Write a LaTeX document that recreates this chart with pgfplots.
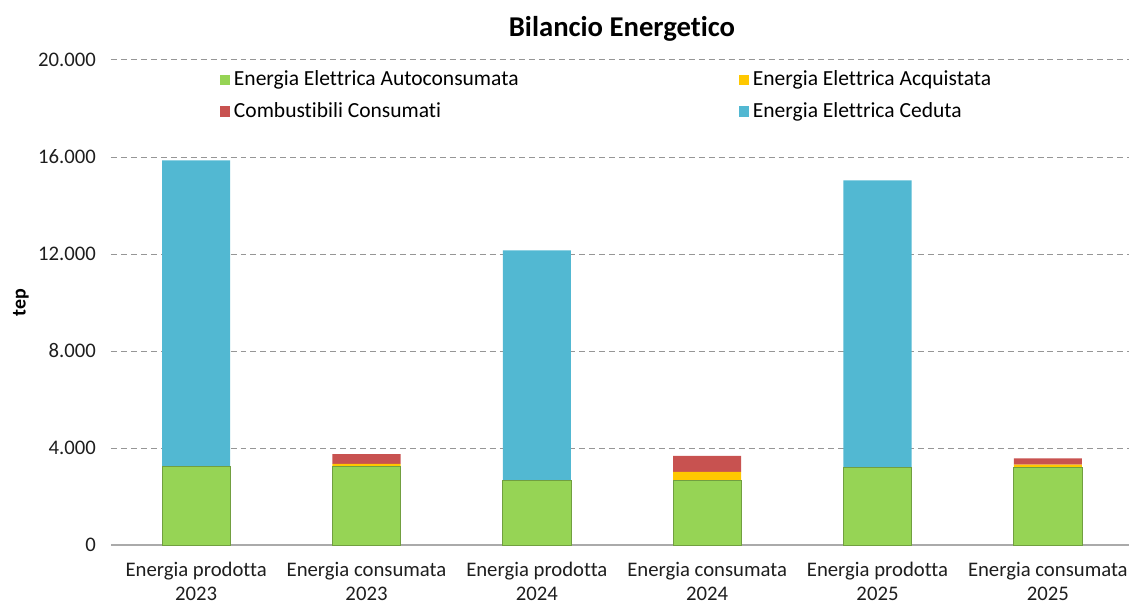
\documentclass[border=0pt]{standalone}
\usepackage{fontspec}
\setmainfont{Carlito}[Ligatures=NoCommon]
\usepackage{pgfplots}
\pgfplotsset{compat=1.18}

\definecolor{AutoGreen}{RGB}{150,212,85}
\definecolor{AcqYellow}{RGB}{255,200,0}
\definecolor{CombRed}{RGB}{200,82,80}
\definecolor{CedBlue}{RGB}{82,184,210}
\definecolor{GridGray}{RGB}{150,150,150}
\definecolor{AxisGray}{RGB}{170,170,170}
\definecolor{TextGray}{RGB}{30,30,30}

\begin{document}
\begin{tikzpicture}
\useasboundingbox (-55.5bp,-29.5bp) rectangle (509bp,272.5bp);
\begin{axis}[
    at={(0,0)}, anchor=south west,
    scale only axis,
    width=511bp,
    height=242.5bp,
    ybar stacked,
    bar width=0.4,
    xmin=-0.5, xmax=5.5,
    ymin=0, ymax=20000,
    xtick={0,1,2,3,4,5},
    xticklabels={{Energia prodotta\\2023},{Energia consumata\\2023},
                 {Energia prodotta\\2024},{Energia consumata\\2024},
                 {Energia prodotta\\2025},{Energia consumata\\2025}},
    ytick={0,4000,8000,12000,16000,20000},
    scaled y ticks=false,
    /pgf/number format/assume math mode=true,
    /pgf/number format/fixed,
    /pgf/number format/1000 sep={.},
    tick label style={font=\fontsize{10.4}{12}\selectfont, text=TextGray},
    xticklabel style={align=center, yshift=-5bp},
    yticklabel style={xshift=-4bp},
    major tick length=0pt,
    axis x line*=bottom,
    axis y line*=left,
    x axis line style={draw=AxisGray, line width=0.8pt},
    y axis line style={draw=none},
    ymajorgrids,
    major grid style={densely dashed, draw=GridGray, line width=0.5pt},
    title={Bilancio Energetico},
    title style={at={(axis description cs:0.5,1)}, anchor=center, yshift=9.5bp,
                 font=\bfseries\fontsize{14.4}{16}\selectfont},
    ylabel={tep},
    ylabel style={at={(axis description cs:0,0.5)}, anchor=center, yshift=45bp,
                  font=\bfseries\fontsize{10}{12}\selectfont},
    legend columns=2,
    legend cell align=left,
    legend style={
        at={(0.1,0.995)}, anchor=north west,
        draw=none, fill=none,
        font=\fontsize{10.8}{13}\selectfont,
        /tikz/every even column/.append style={column sep=108bp},
        row sep=3bp,
    },
    legend image code/.code={
        \draw[#1, draw=none] (0bp,-2.6bp) rectangle (5.2bp,2.6bp);
    },
]

\addplot[fill=AutoGreen, draw=AutoGreen!75!black, line width=0.4pt] coordinates {
    (0,3240) (1,3250) (2,2680) (3,2680) (4,3210) (5,3180)
};
\addlegendentry{Energia Elettrica Autoconsumata}

\addplot[fill=AcqYellow, draw=none] coordinates {
    (0,0) (1,100) (2,0) (3,340) (4,0) (5,130)
};
\addlegendentry{Energia Elettrica Acquistata}

\addplot[fill=CombRed, draw=none] coordinates {
    (0,0) (1,400) (2,0) (3,660) (4,0) (5,260)
};
\addlegendentry{Combustibili Consumati}

\addplot[fill=CedBlue, draw=none] coordinates {
    (0,12620) (1,0) (2,9470) (3,0) (4,11830) (5,0)
};
\addlegendentry{Energia Elettrica Ceduta}

\end{axis}
\end{tikzpicture}
\end{document}
